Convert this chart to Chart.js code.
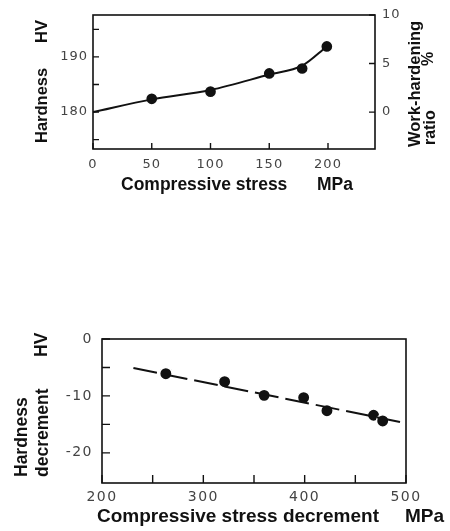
<!DOCTYPE html>
<html>
<head>
<meta charset="utf-8">
<script src="https://cdn.jsdelivr.net/npm/chart.js@4.4.1/dist/chart.umd.min.js"></script>
<style>
	html, body { margin: 0; padding: 0; background: #fff; }
	body { width: 450px; height: 531px; position: relative; overflow: hidden; }
	canvas { position: absolute; left: 0; }
	#top { top: 0; }
	#bottom { top: 320px; }
</style>
</head>
<body>
<canvas id="top" width="450" height="200"></canvas>
<canvas id="bottom" width="450" height="211"></canvas>
<script>
// upper panel: hardness vs compressive stress
const topStress = [50, 100, 150, 178, 199];
const topHardness = [182.4, 183.7, 187.0, 187.9, 191.9];
const topCurveStress = [0, 50, 100, 150, 178, 199];
const topCurveHardness = [180, 182.3, 184.0, 186.8, 188.4, 191.9];
const topXTicks = [0, 50, 100, 150, 200];
const topXLabels = [0, 50, 100, 150, 200];
const topYTicks = [175, 180, 185, 190, 195];
const topYLabels = [180, 190];
const topRatioTicks = [0, 5, 10];

// lower panel: hardness decrement vs compressive stress decrement
const decStress = [263, 321, 360, 399, 422, 468, 477];
const decHardness = [-6.1, -7.5, -9.9, -10.3, -12.6, -13.4, -14.4];
const decFitStress = [231, 495];
const decFitHardness = [-5.1, -14.6];
const decXTicks = [200, 250, 300, 350, 400, 450, 500];
const decXLabels = [200, 300, 400, 500];
const decYTicks = [0, -5, -10, -15, -20];
const decYLabels = [0, -10, -20];

const titleFont = '"Liberation Sans", Arial, sans-serif';
const tickFamily = '"DejaVu Sans", sans-serif';

const pairs = (xs, ys) => xs.map((x, i) => ({ x: x, y: ys[i] }));
const fixTicks = list => (s => { s.ticks = list.map(v => ({ value: v })); });
const onlyLabels = list => (v => list.includes(v) ? String(v) : '');

// draws the closed frame, the inward tick marks and the axis titles
function framePlugin(opts) {
	return {
		id: 'frame',
		beforeDraw(chart) {
			chart.ctx.letterSpacing = opts.tickSpacing;
		},
		afterDraw(chart) {
			const ctx = chart.ctx;
			const a = chart.chartArea;
			ctx.save();
			ctx.letterSpacing = '0px';
			ctx.strokeStyle = '#111';
			ctx.lineWidth = 1.6;
			ctx.strokeRect(a.left, a.top, a.right - a.left, a.bottom - a.top);

			ctx.lineWidth = 1.4;
			ctx.beginPath();
			Object.values(chart.scales).forEach(s => {
				s.ticks.forEach(t => {
					const p = s.getPixelForValue(t.value);
					if (s.axis === 'x') {
						ctx.moveTo(p, a.bottom);
						ctx.lineTo(p, a.bottom - opts.tickLen);
					} else if (s.position === 'left') {
						ctx.moveTo(a.left, p);
						ctx.lineTo(a.left + opts.tickLen, p);
					} else {
						ctx.moveTo(a.right, p);
						ctx.lineTo(a.right - opts.tickLen, p);
					}
				});
			});
			ctx.stroke();

			ctx.fillStyle = '#111';
			ctx.textAlign = 'left';
			ctx.textBaseline = 'middle';
			opts.titles.forEach(t => {
				ctx.font = 'bold ' + (t.size || opts.titleSize) + 'px ' + titleFont;
				ctx.save();
				ctx.translate(t.x, t.y);
				if (t.rot) ctx.rotate(-Math.PI / 2);
				ctx.fillText(t.text, 0, 0);
				ctx.restore();
			});
			ctx.restore();
		}
	};
}

function tickOpts(size, padding, labels) {
	return {
		color: '#444',
		font: { family: tickFamily, size: size },
		padding: padding,
		autoSkip: false,
		maxRotation: 0,
		callback: labels ? onlyLabels(labels) : (v => String(v))
	};
}

const noGrid = { display: false, drawTicks: false };
const noBorder = { display: false };

new Chart(document.getElementById('top'), {
	type: 'scatter',
	data: {
		datasets: [
			{
				type: 'line',
				data: pairs(topCurveStress, topCurveHardness),
				borderColor: '#111',
				borderWidth: 2,
				pointRadius: 0,
				cubicInterpolationMode: 'monotone',
				yAxisID: 'y'
			},
			{
				data: pairs(topStress, topHardness),
				backgroundColor: '#111',
				pointBorderColor: '#fff',
				pointBorderWidth: 1.5,
				pointRadius: 6.1,
				yAxisID: 'y'
			}
		]
	},
	options: {
		responsive: false,
		animation: false,
		devicePixelRatio: 1,
		layout: { padding: { top: 15, left: 0, right: 0, bottom: 0 } },
		plugins: { legend: { display: false }, tooltip: { enabled: false } },
		scales: {
			x: {
				type: 'linear', position: 'bottom', min: 0, max: 240,
				grid: noGrid, border: noBorder,
				afterBuildTicks: fixTicks(topXTicks),
				afterFit: s => { s.height = 51; },
				ticks: tickOpts(13, 8, topXLabels)
			},
			y: {
				type: 'linear', position: 'left', min: 173.3, max: 197.6,
				grid: noGrid, border: noBorder,
				afterBuildTicks: fixTicks(topYTicks),
				afterFit: s => { s.width = 93; },
				ticks: tickOpts(13, 5, topYLabels)
			},
			ratio: {
				type: 'linear', position: 'right', min: -3.8, max: 10,
				grid: noGrid, border: noBorder,
				afterBuildTicks: fixTicks(topRatioTicks),
				afterFit: s => { s.width = 75; },
				ticks: tickOpts(13, 7)
			}
		}
	},
	plugins: [framePlugin({
		tickLen: 6,
		tickSpacing: '1px',
		titleSize: 16.5,
		titles: [
			{ text: 'Hardness', x: 42, y: 143, rot: true },
			{ text: 'HV', x: 42, y: 43, rot: true },
			{ text: 'Compressive stress', x: 121, y: 185, size: 17.5 },
			{ text: 'MPa', x: 317, y: 185, size: 17.5 },
			{ text: 'Work-hardening', x: 415, y: 147, rot: true, size: 16.5 },
			{ text: 'ratio', x: 431, y: 145, rot: true, size: 16 },
			{ text: '%', x: 429, y: 66, rot: true, size: 16 }
		]
	})]
});

new Chart(document.getElementById('bottom'), {
	type: 'scatter',
	data: {
		datasets: [
			{
				type: 'line',
				data: pairs(decFitStress, decFitHardness),
				borderColor: '#111',
				borderWidth: 2,
				borderDash: [24, 7],
				pointRadius: 0
			},
			{
				data: pairs(decStress, decHardness),
				backgroundColor: '#111',
				pointBorderColor: '#fff',
				pointBorderWidth: 1.5,
				pointRadius: 6.2
			}
		]
	},
	options: {
		responsive: false,
		animation: false,
		devicePixelRatio: 1,
		layout: { padding: { top: 19, left: 0, right: 44, bottom: 0 } },
		plugins: { legend: { display: false }, tooltip: { enabled: false } },
		scales: {
			x: {
				type: 'linear', position: 'bottom', min: 200, max: 500,
				grid: noGrid, border: noBorder,
				afterBuildTicks: fixTicks(decXTicks),
				afterFit: s => { s.height = 48; },
				ticks: tickOpts(14, 6, decXLabels)
			},
			y: {
				type: 'linear', position: 'left', min: -25.3, max: 0,
				grid: noGrid, border: noBorder,
				afterBuildTicks: fixTicks(decYTicks),
				afterFit: s => { s.width = 102; },
				ticks: tickOpts(14, 9, decYLabels)
			}
		}
	},
	plugins: [framePlugin({
		tickLen: 8,
		tickSpacing: '1.5px',
		titleSize: 17.5,
		titles: [
			{ text: 'Hardness', x: 22, y: 157, rot: true },
			{ text: 'decrement', x: 43, y: 157, rot: true },
			{ text: 'HV', x: 42, y: 37, rot: true },
			{ text: 'Compressive stress decrement', x: 97, y: 197, size: 19 },
			{ text: 'MPa', x: 405, y: 197, size: 19 }
		]
	})]
});
</script>
</body>
</html>
